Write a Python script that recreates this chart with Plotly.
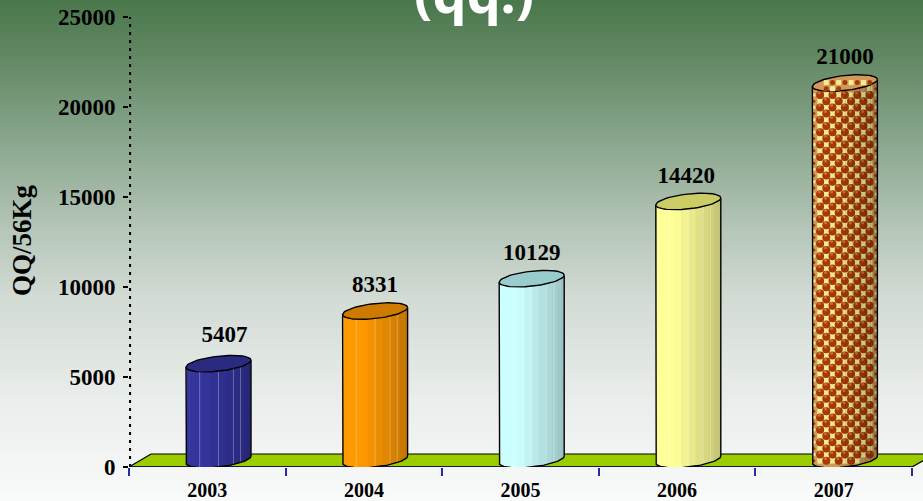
import numpy as np
import plotly.graph_objects as go

years = ["2003", "2004", "2005", "2006", "2007"]
values = [5407, 8331, 10129, 14420, 21000]
y_ticks = [0, 5000, 10000, 15000, 20000, 25000]
y_title = "QQ/56Kg"
chart_title = "(qq.)"

W, H = 923, 501
X0, CAT = 129.0, 156.6
Y0, YTOP = 467.0, 17.0
BAR_C = 89.5
RX, TILT, RY = 32.5, 3.5, 7.5
SERIF = "Liberation Serif"
bar_lit = ["#34349c", "#ff9900", "#ccffff", "#ffff99", None]
bar_top = ["#2a2a80", "#cc7a00", "#99cccc", "#cccc66", None]
label_nudge = [6, 0, 0, -2, 0]
label_gap = [33, 31, 30, 30, 31]
CELL = 6.2

xmax = (W - X0) / CAT
ppu = (Y0 - YTOP) / 25000.0


def dx(px):
    return px / CAT


def dy(px):
    return px / ppu


def shade(hexc, f):
    r, g, b = int(hexc[1:3], 16), int(hexc[3:5], 16), int(hexc[5:7], 16)
    return "rgb(%d,%d,%d)" % (r * f, g * f, b * f)


def ell(i, base, th):
    cx = i + dx(BAR_C)
    x = cx + dx(RX) * np.cos(th)
    y = base + dy(TILT * np.cos(th) + RY * np.sin(th))
    return x, y


def lattice(i, top_c, even, full, whole_cap=False):
    """Decor dots of the checked bar, in axis units, kept inside the body (or cap)."""
    xs, ys, sizes = [], [], []
    cx = i + dx(BAR_C)
    ny = int(round((top_c + dy(12)) / dy(CELL)))
    for m in range(-6, 7):
        for n in range(0, ny + 1):
            if ((m + n) % 2 == 0) != even:
                continue
            xp, yp = m * CELL, n * CELL
            c = xp / RX
            if abs(c) > 0.98:
                continue
            s = np.sqrt(1 - c * c)
            tilt = TILT * c
            lo = dy(tilt - RY * s + RY)
            hi_low = top_c + dy(tilt - RY * s)
            hi_up = top_c + dy(tilt + RY * s)
            y = dy(yp)
            room = 2 * (RX - abs(xp))
            if whole_cap:
                if hi_low + dy(2) <= y <= hi_up - dy(2):
                    xs.append(cx + dx(xp)); ys.append(y); sizes.append(min(full, 5))
            else:
                if lo + dy(4) <= y <= hi_low - dy(2):
                    xs.append(cx + dx(xp)); ys.append(y); sizes.append(min(full, room))
    return xs, ys, sizes


def add_checks(i, top_c, cap=False):
    sx, sy, ss = lattice(i, top_c, False, 5.5, cap)
    fig.add_trace(go.Scatter(x=sx, y=sy, mode="markers",
                             marker=dict(symbol="square", size=ss, opacity=1, color="#f4ec94", line=dict(width=0)),
                             hoverinfo="skip", showlegend=False, cliponaxis=False))
    cx_, cy_, cs = lattice(i, top_c, True, 8, cap)
    fig.add_trace(go.Scatter(x=cx_, y=cy_, mode="markers",
                             marker=dict(symbol="circle", size=cs, opacity=1, color="#a63a06", line=dict(width=0)),
                             hoverinfo="skip", showlegend=False, cliponaxis=False))
    hx = [a - dx(0.8) for a, z in zip(cx_, cs) if z >= 8]
    hy = [b + dy(2.2) for b, z in zip(cy_, cs) if z >= 8]
    fig.add_trace(go.Scatter(x=hx, y=hy, mode="markers",
                             marker=dict(symbol="circle", size=3, opacity=1, color="#c9703a", line=dict(width=0)),
                             hoverinfo="skip", showlegend=False, cliponaxis=False))


fig = go.Figure()

# floor
floor_x = [0, dx(22), xmax + dx(5), xmax + dx(5), 5.0, 0]
floor_y = [0, dy(13), dy(13), dy(9), 0, 0]
fig.add_trace(go.Scatter(x=floor_x, y=floor_y, mode="lines", fill="toself", fillcolor="#9bcc00",
                         line=dict(color="#000000", width=1.2), hoverinfo="skip", showlegend=False, cliponaxis=False))
fig.add_trace(go.Scatter(x=[0, 5], y=[0, 0], mode="lines", line=dict(color="#00007a", width=1.6),
                         hoverinfo="skip", showlegend=False, cliponaxis=False))
# dotted value axis
fig.add_trace(go.Scatter(x=[dx(1), dx(1)], y=[0, 25000], mode="lines", line=dict(color="#000000", width=2.2, dash="3px 5px"),
                         hoverinfo="skip", showlegend=False, cliponaxis=False))

N = 14
bands = [0.21, 0.5, 0.73, 0.84]
for i, v in enumerate(values):
    top_c = v + dy(6)
    bot_c = dy(RY)
    th_full = np.linspace(np.pi, 2 * np.pi, 41)
    bx, by = ell(i, bot_c, th_full)
    tx, ty = ell(i, top_c, th_full)
    sx = np.r_[bx, tx[::-1], bx[0]]
    sy = np.r_[by, ty[::-1], by[0]]
    if bar_lit[i] is None:
        fig.add_trace(go.Scatter(x=sx, y=sy, mode="lines", fill="toself", line=dict(width=0),
                                 fillcolor="#d29a5a", hoverinfo="skip", showlegend=False, cliponaxis=False))
        add_checks(i, top_c)
    for k in range(N):
        a, b = np.pi + np.pi * k / N, np.pi + np.pi * (k + 1.15) / N
        f0 = (1 + np.cos(a)) / 2
        th = np.linspace(a, min(b, 2 * np.pi), 6)
        bx, by = ell(i, bot_c, th)
        tx, ty = ell(i, top_c, th)
        px = np.r_[bx, tx[::-1], bx[0]]
        py = np.r_[by, ty[::-1], by[0]]
        brightness = 1.0 if f0 < 0.25 else 1.0 - (f0 - 0.25) / 0.75 * 0.25
        if bar_lit[i] is None:
            col = "rgba(0,0,0,%.3f)" % (1 - brightness)
        else:
            col = shade(bar_lit[i], brightness)
        fig.add_trace(go.Scatter(x=px, y=py, mode="lines", fill="toself", fillcolor=col, line=dict(width=0),
                                 hoverinfo="skip", showlegend=False, cliponaxis=False))
    # thin light seams
    if bar_lit[i] is not None:
        for f in bands:
            th = 2 * np.pi - np.arccos(2 * f - 1)
            bx, by = ell(i, bot_c, np.array([th]))
            tx, ty = ell(i, top_c, np.array([th]))
            fig.add_trace(go.Scatter(x=[bx[0], tx[0]], y=[by[0], ty[0]], mode="lines",
                                     line=dict(color="rgba(255,255,255,0.3)", width=1),
                                     hoverinfo="skip", showlegend=False, cliponaxis=False))
    # silhouette outline
    bx, by = ell(i, bot_c, th_full)
    tx, ty = ell(i, top_c, th_full)
    fig.add_trace(go.Scatter(x=np.r_[tx[0], bx, tx[-1]], y=np.r_[ty[0], by, ty[-1]], mode="lines",
                             line=dict(color="#000000", width=1.4), hoverinfo="skip", showlegend=False, cliponaxis=False))
    # top cap
    th_cap = np.linspace(0, 2 * np.pi, 61)
    cx_, cy_ = ell(i, top_c, th_cap)
    fig.add_trace(go.Scatter(x=cx_, y=cy_, mode="lines", fill="toself",
                             fillcolor=bar_top[i] if bar_top[i] else "#d29a5a",
                             line=dict(color="#000000", width=1.4),
                             hoverinfo="skip", showlegend=False, cliponaxis=False))
    if not bar_top[i]:
        add_checks(i, top_c, cap=True)

# value labels
fig.add_trace(go.Scatter(
    x=[i + dx(BAR_C + n) for i, n in enumerate(label_nudge)],
    y=[v + dy(g) for v, g in zip(values, label_gap)],
    text=[str(v) for v in values], mode="text", textposition="middle center",
    textfont=dict(family=SERIF, size=23, color="#000000", weight="bold"),
    hoverinfo="skip", showlegend=False, cliponaxis=False))

# background gradient
stops = [(0, (74, 120, 76)), (0.1, (96, 134, 97)), (0.3, (142, 170, 146)), (0.45, (180, 197, 183)),
         (0.6, (212, 220, 214)), (0.8, (234, 238, 236)), (1, (250, 251, 251))]
pos = [s[0] for s in stops]
shapes = []
nb = 125
for k in range(nb):
    t = (k + 0.5) / nb
    c = [np.interp(t, pos, [s[1][j] for s in stops]) for j in range(3)]
    shapes.append(dict(type="rect", xref="paper", yref="paper", x0=0, x1=1, y0=0, y1=1 - k / nb,
                       fillcolor="rgb(%d,%d,%d)" % tuple(c), line=dict(width=0), layer="below"))

fig.update_layout(
    width=W, height=H, margin=dict(l=0, r=0, t=0, b=0), autosize=False,
    paper_bgcolor="#fafbfb", plot_bgcolor="rgba(0,0,0,0)", showlegend=False, shapes=shapes,
    xaxis=dict(domain=[X0 / W, 1], range=[0, xmax], showgrid=False, zeroline=False, showline=False, automargin=False,
               tickmode="array", tickvals=[i + 0.5 for i in range(5)], ticktext=years,
               ticks="outside", ticklen=5, tickcolor="rgba(0,0,0,0)", tickwidth=1,
               tickfont=dict(family=SERIF, size=20, color="#000000", weight="bold"),
               minor=dict(tickmode="array", tickvals=list(range(6)), ticks="outside", ticklen=8,
                          tickcolor="#2a2a9a", tickwidth=1.5, showgrid=False)),
    yaxis=dict(domain=[(H - Y0) / H, (H - YTOP) / H], range=[0, 25000], showgrid=False, zeroline=False, showline=False, automargin=False,
               tickmode="array", tickvals=y_ticks, ticktext=[str(t) for t in y_ticks],
               ticks="outside", ticklen=8, tickcolor="rgba(0,0,0,0)", tickwidth=1,
               tickfont=dict(family=SERIF, size=23, color="#000000", weight="bold"),
               minor=dict(tickmode="array", tickvals=y_ticks, ticks="outside", ticklen=5,
                          tickcolor="#000000", tickwidth=1.5, showgrid=False)),
    annotations=[
        dict(text=y_title, xref="paper", yref="paper", x=22 / W, y=1 - 240 / H, showarrow=False, textangle=-90,
             xanchor="center", yanchor="middle", font=dict(family=SERIF, size=27, color="#000000", weight="bold")),
        dict(text=chart_title, xref="paper", yref="paper", x=474 / W, y=1 - 31 / H, showarrow=False,
             xanchor="center", yanchor="bottom", font=dict(family="Noto Sans", size=54, color="#ffffff", weight="bold")),
    ],
)

fig.write_html("out.html", config=dict(displayModeBar=False),
               post_script="document.documentElement.style.overflow='hidden';document.body.style.margin='0';")
